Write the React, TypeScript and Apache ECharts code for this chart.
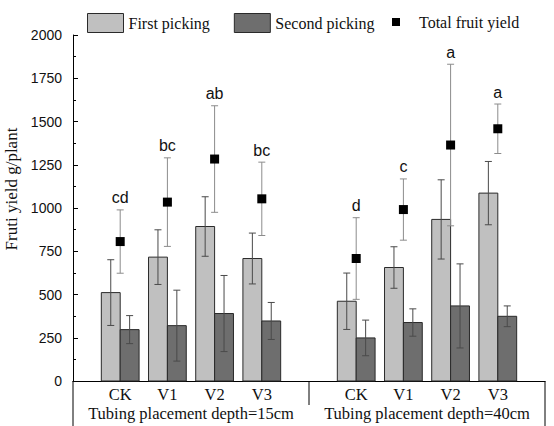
import React, { useEffect, useRef } from "react";
import * as echarts from "echarts";

const categories = ["CK", "V1", "V2", "V3"];
const groupLabels = ["Tubing placement depth=15cm", "Tubing placement depth=40cm"];
const xPositions = [1, 2, 3, 4, 6, 7, 8, 9];
const firstPicking = [511, 716, 893, 708, 461, 656, 934, 1086];
const firstPickingErr = [190, 158, 172, 147, 163, 120, 229, 183];
const secondPicking = [297, 320, 390, 347, 249, 338, 434, 374];
const secondPickingErr = [81, 205, 220, 107, 103, 79, 243, 60];
const totalYield = [806, 1034, 1283, 1053, 708, 991, 1364, 1458];
const totalYieldErr = [183, 256, 308, 212, 236, 177, 467, 143];
const significance = ["cd", "bc", "ab", "bc", "d", "c", "a", "a"];
const groupCenters = [2.5, 7.5];
const groupDivider = 5;

const FIRST_COLOR = "#c0c0c0";
const SECOND_COLOR = "#6e6e6e";
const SERIF = "'Liberation Serif', 'Times New Roman', serif";
const SANS = "'Liberation Sans', Arial, sans-serif";

const GRID = { left: 73, right: 9, top: 35, bottom: 45 };

function barRenderer(side: number, fill: string) {
  return (params: any, api: any) => {
    const x = api.value(0);
    const v = api.value(1);
    const e = api.value(2);
    const unit = api.size([1, 0])[0];
    const bw = unit * 0.4;
    const p0 = api.coord([x, 0]);
    const p1 = api.coord([x, v]);
    const left = p0[0] + (side === 0 ? -bw : 0);
    const cx = left + bw / 2;
    const top = api.coord([x, v + e])[1];
    const bot = api.coord([x, v - e])[1];
    const cap = 3.5;
    const es = { stroke: "#4a4a4a", lineWidth: 1 };
    return {
      type: "group",
      children: [
        {
          type: "rect",
          shape: { x: left, y: p1[1], width: bw, height: p0[1] - p1[1] },
          style: { fill, stroke: "#2a2a2a", lineWidth: 1 },
        },
        { type: "line", shape: { x1: cx, y1: top, x2: cx, y2: bot }, style: es },
        { type: "line", shape: { x1: cx - cap, y1: top, x2: cx + cap, y2: top }, style: es },
        { type: "line", shape: { x1: cx - cap, y1: bot, x2: cx + cap, y2: bot }, style: es },
      ],
    };
  };
}

function totalErrRenderer(params: any, api: any) {
  const x = api.value(0);
  const v = api.value(1);
  const e = api.value(2);
  const cx = api.coord([x, v])[0];
  const top = api.coord([x, v + e])[1];
  const bot = api.coord([x, v - e])[1];
  const cap = 3.5;
  const es = { stroke: "#8c8c8c", lineWidth: 1 };
  return {
    type: "group",
    children: [
      { type: "line", shape: { x1: cx, y1: top, x2: cx, y2: bot }, style: es },
      { type: "line", shape: { x1: cx - cap, y1: top, x2: cx + cap, y2: top }, style: es },
      { type: "line", shape: { x1: cx - cap, y1: bot, x2: cx + cap, y2: bot }, style: es },
      {
        type: "text",
        x: cx,
        y: top - 12,
        style: {
          text: significance[params.dataIndex],
          fill: "#111",
          font: `16px ${SANS}`,
          textAlign: "center",
          textVerticalAlign: "middle",
        },
      },
    ],
  };
}

export default function App() {
  const ref = useRef<HTMLDivElement>(null);
  useEffect(() => {
    document.body.style.margin = "0";
    const chart = echarts.init(ref.current!, null, { renderer: "svg" });
    const labelMap: Record<number, string> = {};
    xPositions.forEach((p, i) => (labelMap[p] = categories[i % categories.length]));

    chart.setOption({
      animation: false,
      backgroundColor: "#fff",
      grid: { ...GRID, containLabel: false, outerBoundsMode: "none" },
      legend: [
        {
          left: 87,
          top: 13,
          padding: 0,
          itemWidth: 36,
          itemHeight: 19,
          itemGap: 24,
          textStyle: { fontFamily: SERIF, fontSize: 16, color: "#111" },
          data: [
            { name: "First picking", icon: "rect", itemStyle: { color: FIRST_COLOR, borderColor: "#2a2a2a", borderWidth: 1 } },
            { name: "Second picking", icon: "rect", itemStyle: { color: SECOND_COLOR, borderColor: "#2a2a2a", borderWidth: 1 } },
          ],
        },
        {
          left: 392,
          top: 14,
          padding: 0,
          itemWidth: 8,
          itemHeight: 8,
          formatter: (name: string) => `{g|}${name}`,
          textStyle: {
            fontFamily: SERIF,
            fontSize: 16,
            color: "#111",
            rich: { g: { width: 14 } },
          },
          data: [{ name: "Total fruit yield", icon: "rect", itemStyle: { color: "#000" } }],
        },
      ],
      xAxis: {
        type: "value",
        min: 0,
        max: 10,
        interval: 1,
        axisLine: { show: true, onZero: false, lineStyle: { color: "#000", width: 1 } },
        axisTick: { show: false },
        splitLine: { show: false },
        axisLabel: {
          margin: 5,
          fontFamily: SERIF,
          fontSize: 16.5,
          color: "#111",
          showMinLabel: true,
          showMaxLabel: true,
          formatter: (v: number) => labelMap[Math.round(v)] ?? "",
        },
      },
      yAxis: {
        type: "value",
        min: 0,
        max: 2000,
        interval: 250,
        name: "Fruti yield g/plant",
        nameLocation: "middle",
        nameGap: 43,
        nameTextStyle: { fontFamily: SERIF, fontSize: 17, color: "#111", padding: [0, 0, 0, 38] },
        axisLine: { show: true, lineStyle: { color: "#000", width: 1 } },
        axisTick: { show: true, inside: true, length: 5, lineStyle: { color: "#000" } },
        minorTick: { show: true, splitNumber: 2, length: 3, lineStyle: { color: "#000" } },
        splitLine: { show: false },
        axisLabel: {
          margin: 11,
          fontFamily: SANS,
          fontSize: 14,
          color: "#111",
          formatter: (v: number) => String(v),
        },
      },
      series: [
        {
          name: "First picking",
          type: "custom",
          itemStyle: { color: FIRST_COLOR },
          renderItem: barRenderer(0, FIRST_COLOR),
          encode: { x: 0, y: 1 },
          data: xPositions.map((p, i) => [p, firstPicking[i], firstPickingErr[i]]),
          z: 2,
        },
        {
          name: "Second picking",
          type: "custom",
          itemStyle: { color: SECOND_COLOR },
          renderItem: barRenderer(1, SECOND_COLOR),
          encode: { x: 0, y: 1 },
          data: xPositions.map((p, i) => [p, secondPicking[i], secondPickingErr[i]]),
          z: 2,
        },
        {
          name: "Total fruit yield err",
          type: "custom",
          renderItem: totalErrRenderer,
          encode: { x: 0, y: 1 },
          data: xPositions.map((p, i) => [p, totalYield[i], totalYieldErr[i]]),
          z: 3,
        },
        {
          name: "Total fruit yield",
          type: "scatter",
          symbol: "rect",
          symbolSize: 9,
          itemStyle: { color: "#000", opacity: 1 },
          data: xPositions.map((p, i) => [p, totalYield[i]]),
          z: 4,
        },
      ],
    });

    const h = 426;
    const axisY = h - GRID.bottom;
    const xl = chart.convertToPixel({ xAxisIndex: 0 }, 0) as number;
    const xr = chart.convertToPixel({ xAxisIndex: 0 }, 10) as number;
    const xd = chart.convertToPixel({ xAxisIndex: 0 }, groupDivider) as number;
    const lineStyle = { stroke: "#000", lineWidth: 1 };
    chart.setOption({
      graphic: [
        { type: "line", shape: { x1: xl, y1: axisY, x2: xl, y2: h }, style: lineStyle },
        { type: "line", shape: { x1: xr, y1: axisY, x2: xr, y2: h }, style: lineStyle },
        { type: "line", shape: { x1: xd, y1: axisY, x2: xd, y2: axisY + 24 }, style: lineStyle },
        ...groupLabels.map((t, i) => ({
          type: "text",
          x: chart.convertToPixel({ xAxisIndex: 0 }, groupCenters[i]) as number,
          y: axisY + 32,
          style: { text: t, fill: "#111", font: `16.5px ${SERIF}`, textAlign: "center", textVerticalAlign: "middle" },
        })),
      ],
    });

    return () => chart.dispose();
  }, []);
  return <div ref={ref} style={{ width: 554, height: 426 }} />;
}
